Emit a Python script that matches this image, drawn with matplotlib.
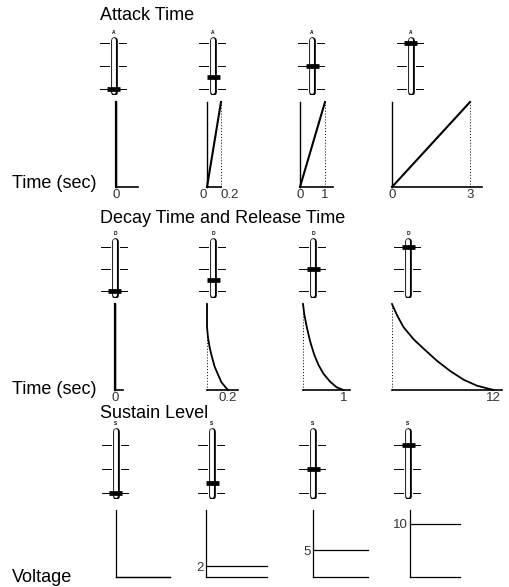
import matplotlib
matplotlib.use("Agg")
import matplotlib.pyplot as plt

plt.rcParams['font.family'] = ['Liberation Sans', 'DejaVu Sans']

W, H = 510, 587

# slider settings (0..10 on each fader)
attack_knob = [0, 2.5, 5, 10]
decay_knob = [0, 2.5, 5, 10]
sustain_knob = [0, 2, 5, 10]

# attack: time (sec) to reach full level
attack_times = [0, 0.2, 1, 3]
attack_labels = [["0"], ["0", "0.2"], ["0", "1"], ["0", "3"]]

# decay / release curves (time, level)
decay_times = [0, 0.2, 1, 12]
decay_labels = ["0", "0.2", "1", "12"]
decay_t = [
    [0, 0],
    [0, 0, 0.0095, 0.026, 0.048, 0.073, 0.105, 0.137, 0.185, 0.2],
    [0, 0.032, 0.099, 0.18, 0.279, 0.385, 0.507, 0.672, 0.837, 1.0],
    [0, 0.59, 1.37, 2.55, 3.74, 5.31, 6.89, 8.46, 10.04, 12],
]
decay_v = [
    [1, 0],
    [1, 0.73, 0.61, 0.49, 0.38, 0.27, 0.18, 0.09, 0.02, 0],
    [1, 0.88, 0.72, 0.56, 0.41, 0.29, 0.19, 0.097, 0.031, 0],
    [1, 0.87, 0.73, 0.59, 0.48, 0.34, 0.22, 0.12, 0.05, 0],
]

# sustain voltage
sustain_levels = [0, 2, 5, 10]

fig = plt.figure(figsize=(W / 100, H / 100), dpi=100)


def px_axes(x0, x1, ytop, ybot):
    return fig.add_axes([x0 / W, 1 - ybot / H, (x1 - x0) / W, (ybot - ytop) / H])


def slider(cx, p0, p10, lo, hi, value, tag):
    ppu = (p0 - p10) / 10.0
    ytop = p10 - (hi - 10) * ppu
    ybot = p0 + (-lo) * ppu
    ax = px_axes(cx - 16, cx + 16, ytop, ybot)
    ax.set_xlim(-16, 16)
    ax.set_ylim(lo, hi)
    ax.axis('off')
    # slot
    ax.plot([0, 0], [lo + 0.6, hi - 0.6], color='black', lw=4.8,
            solid_capstyle='round')
    ax.plot([0, 0], [lo + 0.6, hi - 0.6], color='white', lw=2.8,
            solid_capstyle='round')
    # scale marks
    for v in (0, 5, 10):
        ax.plot([-14, -5], [v, v], color='black', lw=0.7)
        ax.plot([5, 12], [v, v], color='black', lw=0.7)
    # knob
    ax.plot([-6.5, 6.5], [value, value], color='black', lw=3.4,
            solid_capstyle='butt')
    ax.text(0, hi + 0.4, tag, ha='center', va='bottom', fontsize=3.5,
            fontweight='bold', clip_on=False)


def graph(x0, x1, ytop, ybot, xmax, ymax):
    ax = px_axes(x0, x1, ytop, ybot)
    ax.set_xlim(0, xmax)
    ax.set_ylim(0, ymax)
    for s in ('top', 'right'):
        ax.spines[s].set_visible(False)
    ax.spines['left'].set_linewidth(1.0)
    ax.spines['bottom'].set_linewidth(1.2)
    ax.set_facecolor('none')
    ax.tick_params(length=0, labelsize=9.5, pad=1.5, colors='#333333')
    ax.set_xticks([])
    ax.set_yticks([])
    return ax


# ---------- row 1: attack ----------
fig.text(100 / W, 1 - 15 / H, "Attack Time", fontsize=13, va='center')
for cx, v in zip([114, 213, 312, 411], attack_knob):
    slider(cx, 89, 43, -1.3, 11.3, v, "A")

attack_px = [(116, 138), (207, 221), (300, 333), (392, 482)]
attack_xmax = [1, 0.2, 1.32, 3.46]
for (x0, x1), xm, t, labs in zip(attack_px, attack_xmax, attack_times, attack_labels):
    ax = graph(x0, x1, 102, 187, xm, 1)
    if t == 0:
        ax.plot([0, 0], [0, 1], color='black', lw=1.6, clip_on=False)
        ax.set_xticks([0])
    else:
        ax.plot([0, t], [0, 1], color='black', lw=1.5, clip_on=False)
        ax.plot([t, t], [0, 1], color='black', lw=0.7, ls=(0, (1, 2)),
                clip_on=False)
        ax.set_xticks([0, t])
    tl = ax.set_xticklabels(labs)
    if t == 0.2:
        # narrow panel: keep "0" and "0.2" apart like the original
        tl[0].set_horizontalalignment('right')
        tl[1].set_horizontalalignment('left')
        tl[1].set_x(t * 0.9)
fig.text(12 / W, 1 - 183 / H, "Time (sec)", fontsize=13, va='center')

# ---------- row 2: decay / release ----------
fig.text(100 / W, 1 - 218 / H, "Decay Time and Release Time", fontsize=13,
         va='center')
for cx, v in zip([115, 213, 313, 408], decay_knob):
    slider(cx, 291, 247, -1.6, 12.0, v, "D")

decay_px = [(115, 123), (207, 238), (303, 350), (392, 502)]
decay_xmax = [1, 0.295, 1.165, 13.0]
for i, ((x0, x1), xm) in enumerate(zip(decay_px, decay_xmax)):
    ax = graph(x0, x1, 304, 390, xm, 1)
    if decay_times[i] == 0:
        ax.plot(decay_t[i], decay_v[i], color='black', lw=1.6, clip_on=False)
    else:
        ax.spines['left'].set_visible(False)
        ax.plot([0, 0], [0, 1], color='black', lw=0.7, ls=(0, (1, 2)),
                clip_on=False)
        ax.plot(decay_t[i], decay_v[i], color='black', lw=1.3, clip_on=False)
    ax.set_xticks([decay_times[i]])
    ax.set_xticklabels([decay_labels[i]])
fig.text(12 / W, 1 - 389 / H, "Time (sec)", fontsize=13, va='center')

# ---------- row 3: sustain ----------
fig.text(100 / W, 1 - 414 / H, "Sustain Level", fontsize=13, va='center')
for cx, v in zip([116, 212, 313, 408], sustain_knob):
    slider(cx, 493, 445, -1.25, 13.5, v, "S")

sustain_px = [(116, 170), (206, 267), (313, 368), (410, 460)]
for (x0, x1), lvl in zip(sustain_px, sustain_levels):
    ax = graph(x0, x1, 510, 577, 1, 12.6)
    ax.spines['left'].set_linewidth(0.9)
    ax.spines['bottom'].set_linewidth(0.9)
    ax.plot([0, 1], [lvl, lvl], color='black', lw=0.9, clip_on=False)
    if lvl > 0:
        ax.set_yticks([lvl])
        ax.set_yticklabels([str(lvl)])
fig.text(12 / W, 1 - 577 / H, "Voltage", fontsize=13, va='center')

fig.savefig("out.png", dpi=100)
